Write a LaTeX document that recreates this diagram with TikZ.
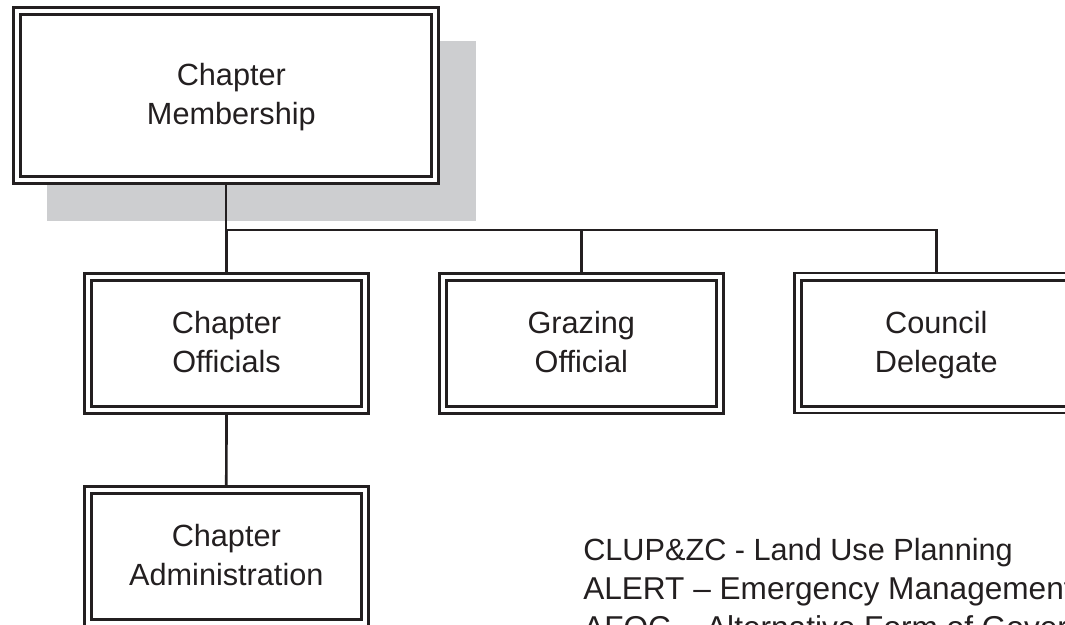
\documentclass[tikz,border=0pt]{standalone}
\usepackage{fontspec}
\setmainfont{Liberation Sans}
\usetikzlibrary{calc}
\definecolor{ink}{HTML}{231F20}
\definecolor{shadowgray}{HTML}{CDCED0}
\newcommand\lstrut{\rule[-5.6pt]{0pt}{25.6pt}}
\begin{document}
\begin{tikzpicture}[x=0.75pt,y=-0.75pt,
  outerbox/.style={draw=ink, line width=1.9pt, inner sep=0pt, outer sep=0pt},
  innerbox/.style={draw=ink, line width=2.5pt, inner sep=0pt, outer sep=0pt,
    align=center, text=ink, font=\fontsize{23}{29}\selectfont},
  bigouter/.style={outerbox, minimum width=318.75pt, minimum height=132pt},
  biginner/.style={innerbox, minimum width=308.25pt, minimum height=121.5pt},
  smallouter/.style={outerbox, minimum width=213pt, minimum height=105pt},
  smallinner/.style={innerbox, minimum width=202.5pt, minimum height=94.5pt},
  link/.style={draw=ink, line width=2pt},
  legend/.style={anchor=base west, inner sep=0pt, text=ink, font=\fontsize{23}{29}\selectfont},
  widelegend/.style={legend, font=\fontsize{23.7}{29}\selectfont}]
\useasboundingbox (0,0) rectangle (1065,625);
\clip (0,0) rectangle (1065,625);
% shadow
\fill[shadowgray] (47,41) rectangle (476,221);
% top box
\node[bigouter, fill=white] (mem) at (226,95.5) {};
\node[biginner] (memin) at (mem) {\lstrut\hspace{8pt}Chapter\\\lstrut\hspace{8pt}Membership};
% second row
\node[smallouter] (off) at (226.5,343.7) {};
\node[smallinner] (offin) at (off) {\lstrut Chapter\\\lstrut Officials};
\node[smallouter] (graz) at (581.3,343.6) {};
\node[smallinner] (grazin) at (graz) {\lstrut Grazing\\\lstrut Official};
\node[smallouter] (coun) at (936.3,343.2) {};
\node[smallinner] (counin) at (coun) {\lstrut Council\\\lstrut Delegate};
% third row
\node[smallouter] (adm) at (226.3,556.5) {};
\node[smallinner] (admin) at (adm) {\lstrut Chapter\\\lstrut Administration};
% connectors
\coordinate (bar) at (226,230);
\draw[link] (mem.south) -- (mem.south |- bar) -| (coun.north);
\draw[link] (off.north) -- (off.north |- bar);
\draw[link] (graz.north) -- (graz.north |- bar);
\draw[link] (off.south) -- (adm.north);
% legend
\node[legend] (l1) at (583,560) {CLUP\&ZC - Land Use Planning};
\node[widelegend] (l2) at (583,599) {ALERT – Emergency Management};
\node[widelegend] (l3) at (583,638) {AFOC – Alternative Form of Government};
\end{tikzpicture}
\end{document}
